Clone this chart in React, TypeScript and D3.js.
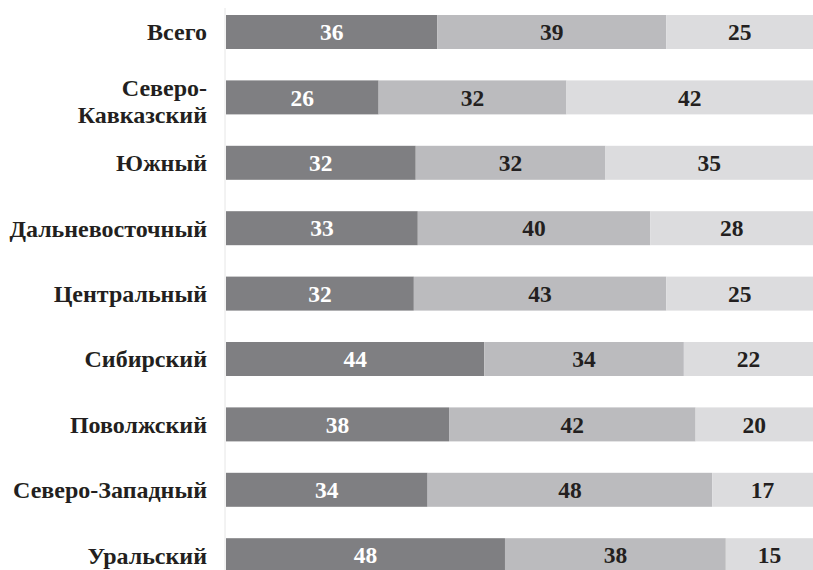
import React from "react";
import * as d3 from "d3";

const categories: string[][] = [
  ["Всего"],
  ["Северо-", "Кавказский"],
  ["Южный"],
  ["Дальневосточный"],
  ["Центральный"],
  ["Сибирский"],
  ["Поволжский"],
  ["Северо-Западный"],
  ["Уральский"],
];
const seriesA = [36, 26, 32, 33, 32, 44, 38, 34, 48];
const seriesB = [39, 32, 32, 40, 43, 34, 42, 48, 38];
const seriesC = [25, 42, 35, 28, 25, 22, 20, 17, 15];

const colors = ["#7f7f82", "#bbbbbe", "#dcdcde"];
const textColors = ["#ffffff", "#231f20", "#231f20"];

export default function App() {
  const W = 813;
  const H = 570;
  const x0 = 226;
  const x = d3.scaleLinear().domain([0, 1]).range([x0, W]);
  const rows = categories.map((c, i) => [seriesA[i], seriesB[i], seriesC[i]]);
  const stacked = rows.map((r) => {
    const total = d3.sum(r);
    let acc = 0;
    return r.map((v) => {
      const s = acc;
      acc += v / total;
      return [s, acc, v];
    });
  });
  const fam = "Liberation Serif";
  const bh = 34;
  return (
    <svg
      width={W}
      height={H}
      style={{ position: "absolute", left: 0, top: 0, background: "#fff" }}
    >
      <line x1={x0 - 1} x2={x0 - 1} y1={8} y2={H} stroke="#e6e6e6" strokeWidth={1} />
      {stacked.map((segs, i) => {
        const top = 15 + i * 65.4;
        const cy = top + bh / 2;
        const lines = categories[i];
        return (
          <g key={i}>
            {segs.map(([s, e, v], j) => (
              <g key={j}>
                <rect x={x(s)} y={top} width={x(e) - x(s)} height={bh} fill={colors[j]} />
                <text
                  x={(x(s) + x(e)) / 2}
                  y={cy}
                  dy="0.35em"
                  textAnchor="middle"
                  fontSize={23.5}
                  fontWeight="bold"
                  fontFamily={fam}
                  fill={textColors[j]}
                >
                  {v}
                </text>
              </g>
            ))}
            {lines.map((t, k) => (
              <text
                key={k}
                x={207}
                y={lines.length > 1 ? cy + (k - 0.5) * 27 + 3.5 : cy}
                dy="0.35em"
                textAnchor="end"
                fontSize={24}
                fontWeight="bold"
                fontFamily={fam}
                fill="#231f20"
              >
                {t}
              </text>
            ))}
          </g>
        );
      })}
    </svg>
  );
}
